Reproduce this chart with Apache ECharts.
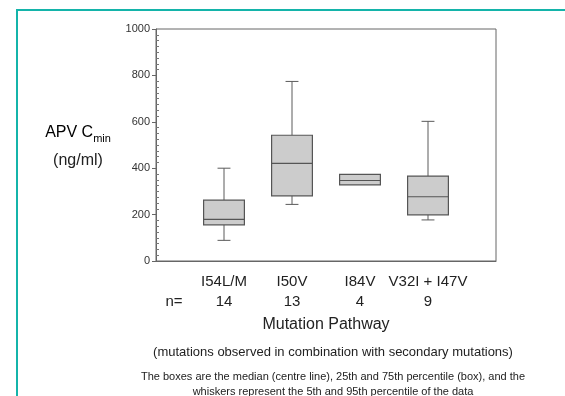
<!DOCTYPE html>
<html>
<head>
<meta charset="utf-8">
<script src="https://cdn.jsdelivr.net/npm/echarts@6/dist/echarts.min.js"></script>
<style>html,body{margin:0;padding:0;background:#fff;}#c{width:565px;height:396px;}</style>
</head>
<body>
<div id="c"></div>
<script>
const categories = ['I54L/M', 'I50V', 'I84V', 'V32I + I47V'];
const counts = [14, 13, 4, 9];
const p5 = [89, 244, 328, 177];
const q1 = [156, 281, 328, 199];
const median = [179, 421, 347, 277];
const q3 = [262, 542, 373, 366];
const p95 = [400, 774, 373, 602];
const yTicks = [0, 200, 400, 600, 800, 1000];

const FONT = '"Liberation Sans", Arial, sans-serif';
const axisCats = [''].concat(categories).concat(['']);
const nMap = {};
categories.forEach((c, i) => { nMap[c] = counts[i]; });
const boxData = categories.map((c, i) => [i + 1, p5[i], q1[i], median[i], q3[i], p95[i]]);

const GL = 156, GR = 69;
const chart = echarts.init(document.getElementById('c'), null, {renderer: 'canvas'});
const lineStyle = {stroke: '#5a5a5a', lineWidth: 1};
chart.setOption({
  animation: false,
  backgroundColor: '#fff',
  grid: {left: GL, right: GR, top: 29, bottom: 135, show: true, borderColor: '#666', borderWidth: 1, backgroundColor: '#fff'},
  xAxis: {
    type: 'category', data: axisCats, boundaryGap: false,
    axisLine: {lineStyle: {color: '#666', width: 1}},
    axisTick: {show: false},
    splitLine: {show: false},
    axisLabel: {
      interval: 0, margin: 11, fontFamily: FONT, fontSize: 15, color: '#222', lineHeight: 20,
      formatter: v => v === '' ? '' : v + '\n' + nMap[v]
    },
    name: 'Mutation Pathway', nameLocation: 'middle', nameGap: 52,
    nameTextStyle: {fontFamily: FONT, fontSize: 16, color: '#222'}
  },
  yAxis: [{
    type: 'value', min: yTicks[0], max: yTicks[yTicks.length - 1], interval: 200,
    axisLine: {show: true, lineStyle: {color: '#666', width: 1}},
    axisTick: {show: true, length: 4, lineStyle: {color: '#666'}},
    splitLine: {show: false},
    axisLabel: {margin: 6, fontFamily: FONT, fontSize: 11, color: '#333', formatter: v => String(v)}
  }, {
    type: 'value', min: yTicks[0], max: yTicks[yTicks.length - 1], interval: 200, position: 'right',
    offset: -(565 - GL - GR),
    axisLine: {show: false}, axisLabel: {show: false}, splitLine: {show: false},
    axisTick: {show: false},
    minorTick: {show: true, splitNumber: 8, length: 3, lineStyle: {color: '#777'}}
  }],
  series: [{
    type: 'custom',
    data: boxData,
    encode: {x: 0, y: [1, 2, 3, 4, 5]},
    renderItem: function (params, api) {
      const xi = api.value(0);
      const x = api.coord([xi, 0])[0];
      const bw = api.size([1, 0])[0];
      const hb = bw * 0.3, hc = bw * 0.095;
      const Y = v => api.coord([xi, v])[1];
      const yP5 = Y(api.value(1)), yQ1 = Y(api.value(2)), yMed = Y(api.value(3)), yQ3 = Y(api.value(4)), yP95 = Y(api.value(5));
      const children = [];
      if (yP95 < yQ3 - 0.5) {
        children.push({type: 'line', shape: {x1: x, y1: yP95, x2: x, y2: yQ3}, style: lineStyle});
        children.push({type: 'line', shape: {x1: x - hc, y1: yP95, x2: x + hc, y2: yP95}, style: lineStyle});
      }
      if (yP5 > yQ1 + 0.5) {
        children.push({type: 'line', shape: {x1: x, y1: yQ1, x2: x, y2: yP5}, style: lineStyle});
        children.push({type: 'line', shape: {x1: x - hc, y1: yP5, x2: x + hc, y2: yP5}, style: lineStyle});
      }
      children.push({type: 'rect', shape: {x: x - hb, y: yQ3, width: 2 * hb, height: yQ1 - yQ3},
        style: {fill: '#cccccc', stroke: '#555', lineWidth: 1.2}});
      children.push({type: 'line', shape: {x1: x - hb, y1: yMed, x2: x + hb, y2: yMed}, style: {stroke: '#555', lineWidth: 1.2}});
      return {type: 'group', children: children};
    }
  }],
  graphic: [
    {type: 'rect', shape: {x: 17, y: 10, width: 600, height: 450}, style: {fill: 'none', stroke: '#14b4aa', lineWidth: 2}, silent: true},
    {type: 'text', x: 78, y: 133, style: {
      text: '{a|APV C}{s|min}', textAlign: 'center', textVerticalAlign: 'middle',
      rich: {a: {fontFamily: FONT, fontSize: 16, color: '#222', lineHeight: 22, verticalAlign: 'middle'},
             s: {fontFamily: FONT, fontSize: 11, color: '#222', lineHeight: 22, verticalAlign: 'bottom', padding: [9, 0, 0, 0]}}
    }},
    {type: 'text', x: 78, y: 161, style: {text: '(ng/ml)', fontFamily: FONT, fontSize: 16, fill: '#222', textAlign: 'center', textVerticalAlign: 'middle'}},
    {type: 'text', x: 174, y: 302, style: {text: 'n=', fontFamily: FONT, fontSize: 15, fill: '#222', textAlign: 'center', textVerticalAlign: 'middle'}},
    {type: 'text', x: 333, y: 352, style: {text: '(mutations observed in combination with secondary mutations)', fontFamily: FONT, fontSize: 13, fill: '#222', textAlign: 'center', textVerticalAlign: 'middle'}},
    {type: 'text', x: 333, y: 377, style: {text: 'The boxes are the median (centre line), 25th and 75th percentile (box), and the', fontFamily: FONT, fontSize: 11, fill: '#222', textAlign: 'center', textVerticalAlign: 'middle'}},
    {type: 'text', x: 333, y: 392, style: {text: 'whiskers represent the 5th and 95th percentile of the data', fontFamily: FONT, fontSize: 11, fill: '#222', textAlign: 'center', textVerticalAlign: 'middle'}}
  ]
});
</script>
</body>
</html>
